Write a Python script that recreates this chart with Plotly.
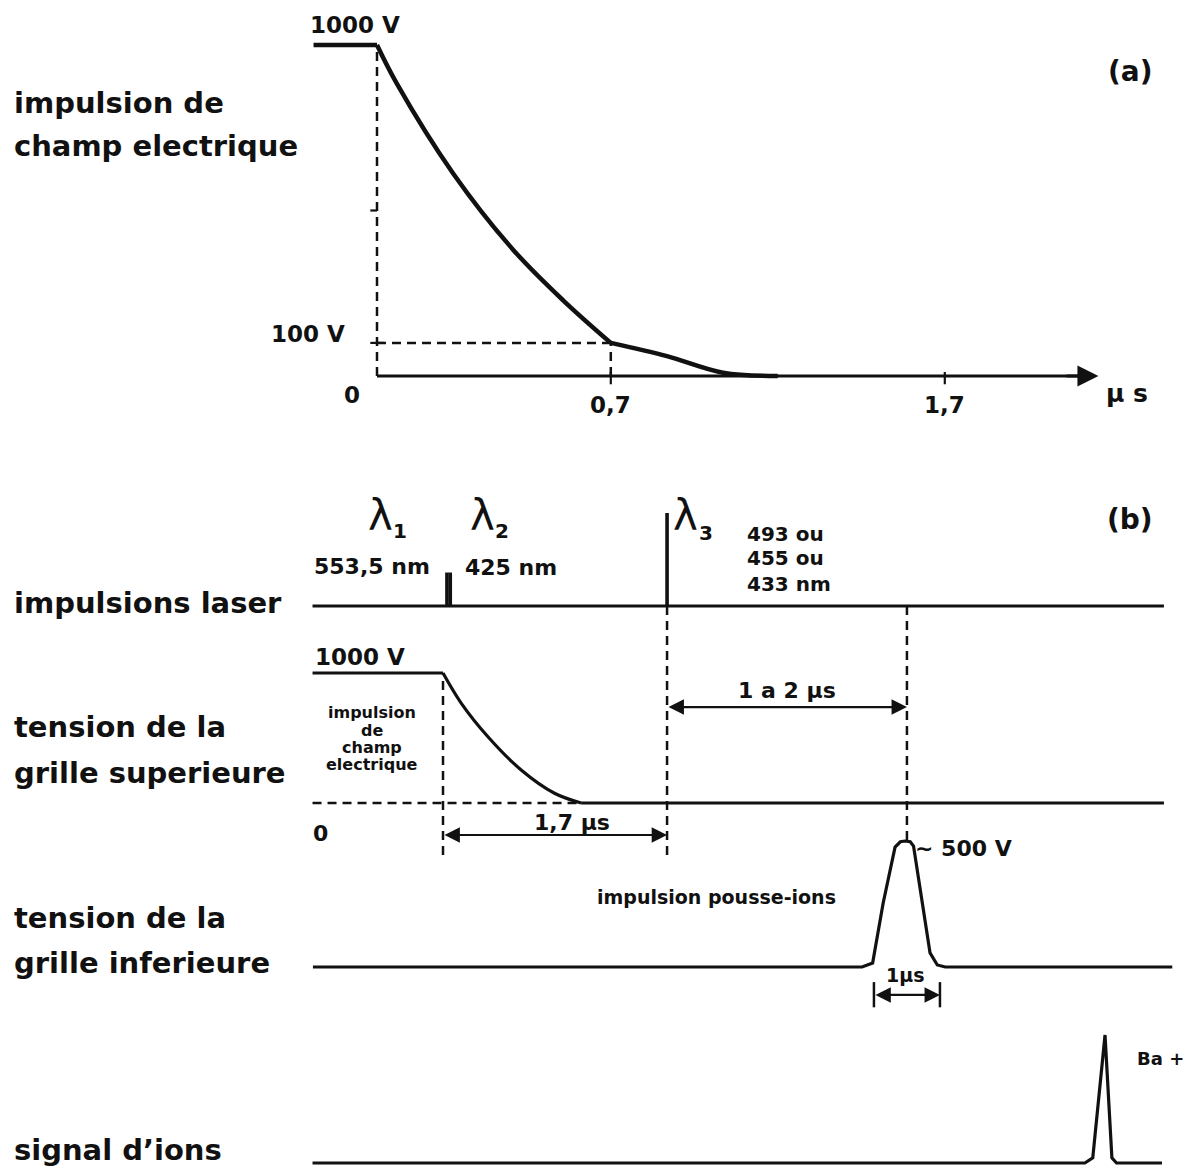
import plotly.graph_objects as go

W, H = 1185, 1173
FONT = "DejaVu Sans"
INK = "#111111"

# ---------------- data ----------------
# (a) extraction-field pulse: time (µs) and voltage (V)
field_t = [-0.19, 0.0, 0.059, 0.228, 0.408, 0.558, 0.70, 0.868, 1.036, 1.20]
field_v = [1000, 1000, 884, 612, 381, 228, 100, 60, 10, 0]
field_axis_end = 2.16
field_ticks = [0.7, 1.7]
field_levels = [100, 1000]

# (b) timing sequence (µs, schematic scale)
laser_names = ["1", "2", "3"]
laser_t = [0.03, 0.055, 1.70]
laser_h = [0.36, 0.36, 1.0]
laser_wl = ["553,5 nm", "425 nm", "493 ou", "455 ou", "433 nm"]
seq_start, seq_end = -0.99, 5.47

upper_t = [-0.99, 0.0, 0.139, 0.341, 0.593, 0.846, 1.048, 5.47]
upper_v = [1000, 1000, 767, 510, 254, 75, 0, 0]

push_delay = 1.82          # from λ3 to the centre of the ion-pushing pulse
push_t = [-9.0, -0.68, -0.52, -0.36, -0.18, -0.10, -0.03, 0.05, 0.10, 0.20, 0.35, 0.46, 0.58, 4.02]
push_v = [0, 0, 16, 254, 476, 497, 500, 497, 480, 317, 56, 8, 0, 0]
push_width = 1.0
push_peak = 500

ion_t = [-0.99, 4.87, 4.93, 5.023, 5.075, 5.11, 5.455]
ion_s = [0, 0, 0.04, 1.0, 0.04, 0, 0]


# ---------------- helpers ----------------
def xspan(origin_px, px_per_unit):
    return [-origin_px / px_per_unit, (W - origin_px) / px_per_unit]


def yspan(origin_px, px_per_unit):
    return [-(H - origin_px) / px_per_unit, origin_px / px_per_unit]


def fmt(v):
    return f"{v}".replace(".", ",")


fig = go.Figure()


def line(x, y, xa="x", ya="y", width=3.0, dash=None, shape="linear", smoothing=None):
    ln = dict(color=INK, width=width, dash=dash, shape=shape)
    if smoothing is not None:
        ln["smoothing"] = smoothing
    fig.add_trace(go.Scatter(
        x=x, y=y, xaxis=xa, yaxis=ya, mode="lines", line=ln,
        hoverinfo="skip", showlegend=False,
    ))


annotations = []


def text(s, x, y, size=22, anchor="center", bold=True, xref="paper", yref="paper"):
    if xref == "paper":
        x = x / W
    if yref == "paper":
        y = 1 - y / H
    annotations.append(dict(
        text=f"<b>{s}</b>" if bold else s, x=x, y=y, xref=xref, yref=yref,
        xanchor=anchor, yanchor="middle", showarrow=False,
        font=dict(family=FONT, size=size, color=INK),
    ))


def arrow(x0, x1, y, xref, yref, both=True, width=2.2):
    annotations.append(dict(
        x=x1, y=y, ax=x0, ay=y, xref=xref, yref=yref, axref=xref, ayref=yref,
        text="", showarrow=True, arrowhead=2, arrowsize=1.4, arrowwidth=width,
        arrowcolor=INK, arrowside="end+start" if both else "end", standoff=0,
        startstandoff=0,
    ))


DASH = "9px,6px"

# ---------------- (a) ----------------
k0 = field_t.index(0.0)
k1 = field_t.index(0.70)
line(field_t[:k0 + 1], field_v[:k0 + 1], width=4.5)
line(field_t[k0:k1 + 1], field_v[k0:k1 + 1], width=4.5, shape="spline", smoothing=1.0)
line(field_t[k1:], field_v[k1:], width=4.5, shape="spline", smoothing=1.0)
line([0, field_axis_end - 0.03], [0, 0], width=3)
arrow(field_axis_end - 0.1, field_axis_end, 0, "x", "y", both=False, width=3)
line([0, 0], [0, field_levels[1]], dash=DASH, width=2.5)
line([0, field_ticks[0]], [field_levels[0]] * 2, dash=DASH, width=2.5)
line([field_ticks[0]] * 2, [0, field_levels[0]], dash=DASH, width=2.5)
for tk in field_ticks:
    line([tk, tk], [-25, 12], width=2.2)
line([-0.02, 0.02], [field_levels[0]] * 2, width=2.2)
line([-0.02, 0.0], [500, 500], width=2.2)

text(f"{field_levels[1]} V", 355, 25, 23)
text(f"{field_levels[0]} V", 347, 334, 23, anchor="right")
text("0", 352, 395, 23)
for tk in field_ticks:
    text(fmt(tk), 377 + 334 * tk, 405, 23)
text("µ s", 1127, 393, 25)
text("impulsion de", 12, 103, 29, anchor="left")
text("champ electrique", 12, 146, 29, anchor="left")
text("(a)", 1130, 72, 28)

# ---------------- (b) ----------------
# laser pulses
line([seq_start, seq_end], [0, 0], "x2", "y2", width=3)
for t, h in zip(laser_t, laser_h):
    line([t, t], [0, h], "x2", "y2", width=3.6)

# upper grid voltage
kz = upper_v.index(0)
line(upper_t[:2], upper_v[:2], "x2", "y3", width=3.2)
line(upper_t[1:kz + 1], upper_v[1:kz + 1], "x2", "y3", width=3.2, shape="spline", smoothing=1.0)
line(upper_t[kz:], upper_v[kz:], "x2", "y3", width=3.2)
line([seq_start, upper_t[kz]], [0, 0], "x2", "y3", dash=DASH, width=2.5)
t3 = laser_t[2]
line([0, 0], [-400, upper_v[0]], "x2", "y3", dash=DASH, width=2.5)
line([t3, t3], [-400, 1515], "x2", "y3", dash=DASH, width=2.5)
line([t3 + push_delay] * 2, [-285, 1515], "x2", "y3", dash=DASH, width=2.5)
arrow(0, t3, -246, "x2", "y3")
arrow(t3, t3 + push_delay, 738, "x2", "y3")

# lower grid voltage (pulse drawn on its own time scale, centred on 0)
line(push_t, push_v, "x3", "y4", width=3.2)
for e in (-push_width / 2, push_width / 2):
    line([e, e], [-60, -160], "x3", "y4", width=2.5)
arrow(-push_width / 2, push_width / 2, -111, "x3", "y4")

# ion signal
line(ion_t, ion_s, "x2", "y5", width=3.2)

# labels
sub_pos = [(380, 515, 400, 531), (482, 515, 502, 531), (685, 515, 706, 533)]
for name, (lx, ly, sx, sy) in zip(laser_names, sub_pos):
    text("λ", lx, ly, 42, bold=False)
    text(name, sx, sy, 20)
text("(b)", 1130, 520, 28)
text(laser_wl[0], 372, 566, 22)
text(laser_wl[1], 463, 567, 22, anchor="left")
for s, yy in zip(laser_wl[2:], (534, 558, 584)):
    text(s, 745, yy, 20, anchor="left")
text("impulsions laser", 12, 603, 29, anchor="left")

text(f"{upper_v[0]} V", 313, 657, 23, anchor="left")
for s, yy in zip(["impulsion", "de", "champ", "electrique"], (713, 730, 747, 764)):
    text(s, 372, yy, 16)
text("tension de la", 12, 727, 29, anchor="left")
text("grille superieure", 12, 773, 29, anchor="left")
text("0", 320, 833, 22)
text(f"{fmt(t3)} µs", 572, 822, 22)
text("1 a 2 µs", 787, 690, 22)

text(f"∼ {push_peak} V", 913, 848, 22, anchor="left")
text("impulsion pousse-ions", 716, 897, 19)
text("tension de la", 12, 918, 29, anchor="left")
text("grille inferieure", 12, 963, 29, anchor="left")
text(f"{int(push_width)}µs", 905, 975, 19)

text("Ba +", 1135, 1058, 18, anchor="left")
text("signal d’ions", 12, 1150, 29, anchor="left")

# ---------------- axes ----------------
hidden = dict(visible=False, showgrid=False, zeroline=False, fixedrange=True)
fig.update_layout(
    width=W, height=H, autosize=False,
    margin=dict(l=0, r=0, t=0, b=0),
    paper_bgcolor="white", plot_bgcolor="white",
    showlegend=False,
    xaxis=dict(domain=[0, 1], range=xspan(377, 334), **hidden),
    yaxis=dict(domain=[0, 1], range=yspan(376, 0.331), **hidden),
    xaxis2=dict(overlaying="x", range=xspan(443, 131.8), **hidden),
    xaxis3=dict(overlaying="x", range=xspan(443 + 131.8 * (laser_t[2] + push_delay), 66), **hidden),
    yaxis2=dict(overlaying="y", range=yspan(606, 93), **hidden),
    yaxis3=dict(overlaying="y", range=yspan(803, 0.13), **hidden),
    yaxis4=dict(overlaying="y", range=yspan(967, 0.252), **hidden),
    yaxis5=dict(overlaying="y", range=yspan(1163, 128), **hidden),
    annotations=annotations,
)

fig.write_html("out.html")
